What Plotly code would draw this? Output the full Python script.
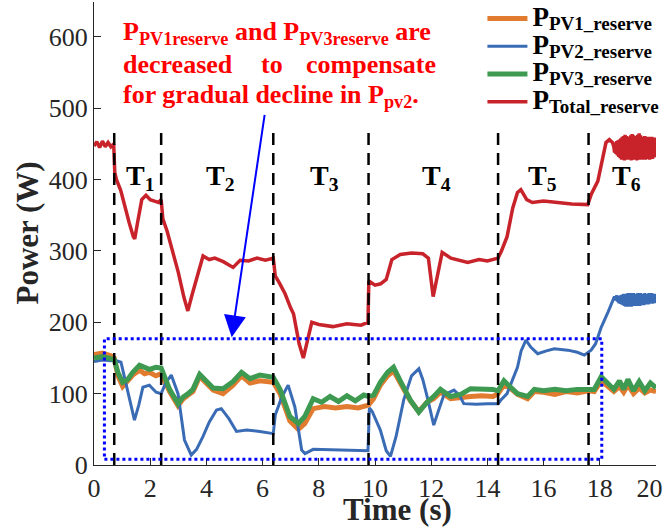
import plotly.graph_objects as go

# ---------------- data ----------------
t_total = [0.0, 0.1, 0.2, 0.3, 0.4, 0.5, 0.6, 0.7, 0.74, 0.8, 0.95, 1.1, 1.25, 1.4, 1.45, 1.55, 1.7, 1.85,
           2.0, 2.15, 2.3, 2.39, 2.45, 2.6, 2.8, 3.0, 3.2, 3.34, 3.5, 3.7, 3.88, 4.1, 4.3, 4.6, 4.95, 5.2,
           5.5, 5.8, 6.1, 6.38, 6.45, 6.6, 6.8, 7.0, 7.1, 7.3, 7.45, 7.6, 7.75, 8.0, 8.5, 9.0, 9.5, 9.75,
           9.78, 10.0, 10.2, 10.4, 10.6, 10.9, 11.3, 11.7, 11.9, 12.07, 12.25, 12.39, 12.7, 13.0, 13.3,
           13.7, 14.0, 14.38, 14.5, 14.7, 14.9, 15.07, 15.19, 15.4, 15.6, 16.0, 16.5, 17.0, 17.57, 17.7,
           17.93, 18.1, 18.22, 18.34, 18.45, 18.5,
           18.525, 18.55, 18.575, 18.6, 18.625, 18.65, 18.675, 18.7, 18.725, 18.75, 18.775, 18.8,
           18.825, 18.85, 18.875, 18.9, 18.925, 18.95, 18.975, 19.0, 19.025, 19.05, 19.075, 19.1,
           19.125, 19.15, 19.175, 19.2, 19.225, 19.25, 19.275, 19.3, 19.325, 19.35, 19.375, 19.4,
           19.425, 19.45, 19.475, 19.5, 19.525, 19.55, 19.575, 19.6, 19.625, 19.65, 19.675, 19.7,
           19.725, 19.75, 19.775, 19.8, 19.825, 19.85, 19.875, 19.9, 19.925, 19.95, 19.975, 20.0]
p_total = [447, 453, 445, 454, 446, 452, 446, 450, 410, 400, 385, 360, 340, 320, 317, 340, 372, 378,
           372, 370, 368, 372, 345, 328, 300, 270, 235, 216, 240, 270, 293, 288, 290, 285, 277, 287,
           286, 290, 287, 290, 265, 255, 240, 220, 212, 170, 150, 175, 200, 197, 194, 198, 196, 200,
           258, 252, 254, 260, 288, 295, 297, 296, 290, 236, 270, 298, 290, 287, 284,
           288, 286, 290, 300, 320, 360, 382, 386, 372, 368, 370, 368, 366, 365, 380,
           398, 430, 452, 456, 452, 446,
           438, 452, 436, 454, 434, 455, 432, 456, 430, 458, 428, 460,
           428, 461, 427, 463, 428, 461, 429, 458, 428, 460, 428, 462,
           427, 464, 428, 462, 429, 459, 428, 461, 427, 463, 428, 465,
           428, 462, 429, 459, 428, 460, 430, 461, 428, 460, 429, 459,
           430, 460, 428, 458, 430, 460, 429, 458, 431, 459, 432, 457]

t_pv2 = [0.0, 0.3, 0.6, 0.72, 0.96, 1.1, 1.26, 1.44, 1.6, 1.74, 1.97, 2.21, 2.39, 2.55, 2.75, 2.99, 3.22,
         3.46, 3.65, 3.88, 4.1, 4.36, 4.53, 4.8, 5.07, 5.43, 5.9, 6.38, 6.45, 6.68, 6.91, 7.15, 7.39,
         7.51, 7.8, 8.5, 9.2, 9.75, 9.8, 9.9, 10.19, 10.4, 10.55, 10.75, 11.02, 11.3, 11.56, 11.7,
         11.86, 12.09, 12.25, 12.45, 12.81, 13.0, 13.16, 13.6, 14.0, 14.38, 14.48, 14.7, 14.9, 15.07,
         15.2, 15.37, 15.55, 15.79, 16.1, 16.38, 16.86, 17.2, 17.45, 17.69, 17.85, 18.05, 18.3, 18.52,
         18.575, 18.6, 18.625, 18.65, 18.675, 18.7, 18.725, 18.75, 18.775, 18.8, 18.825, 18.85,
         18.875, 18.9, 18.925, 18.95, 18.975, 19.0, 19.025, 19.05, 19.075, 19.1, 19.125, 19.15,
         19.175, 19.2, 19.225, 19.25, 19.275, 19.3, 19.325, 19.35, 19.375, 19.4, 19.425, 19.45,
         19.475, 19.5, 19.525, 19.55, 19.575, 19.6, 19.625, 19.65, 19.675, 19.7, 19.725, 19.75,
         19.775, 19.8, 19.825, 19.85, 19.875, 19.9, 19.925, 19.95, 19.975, 20.0]
p_pv2 = [145, 147, 146, 147, 144, 120, 91, 63, 85, 109, 112, 102, 100, 115, 126, 100, 35,
         14, 22, 40, 60, 77, 79, 65, 47, 49, 47, 44, 70, 95, 112, 81, 21,
         16, 22, 21, 20, 20, 80, 75, 49, 20, 12, 40, 91, 125, 135, 120,
         95, 56, 75, 98, 105, 98, 86, 85, 86, 86, 91, 100, 120, 137,
         160, 175, 165, 156, 160, 163, 161, 158, 154, 161, 170, 193, 215, 236,
         231, 238, 229, 236, 227, 237, 226, 238, 225, 239, 224, 240,
         223, 238, 222, 240, 223, 241, 222, 239, 223, 241, 222, 240,
         224, 241, 223, 240, 224, 239, 223, 241, 224, 240, 223, 241,
         224, 240, 225, 240, 224, 241, 225, 240, 226, 240, 225, 241,
         226, 240, 226, 241, 226, 240, 227, 240, 227, 238]

t_pv1 = [0.0, 0.3, 0.6, 0.72, 0.85, 1.02, 1.2, 1.38, 1.62, 1.8, 1.97, 2.2, 2.39, 2.55, 2.69, 2.99, 3.16,
         3.35, 3.52, 3.76, 4.0, 4.24, 4.59, 4.95, 5.25, 5.55, 5.9, 6.14, 6.38, 6.62, 6.97, 7.27, 7.5,
         7.8, 8.2, 8.6, 9.0, 9.4, 9.77, 9.95, 10.19, 10.45, 10.66, 10.9, 11.26, 11.56, 11.85, 12.09,
         12.33, 12.69, 13.05, 13.4, 13.8, 14.2, 14.38, 14.59, 14.8, 15.07, 15.43, 15.67, 16.0, 16.4,
         16.8, 17.2, 17.6, 17.8, 18.05, 18.3, 18.5, 18.7, 18.85, 19.0, 19.2, 19.4, 19.6, 19.8, 20.0]
p_pv1 = [155, 157, 153, 150, 125, 110, 118, 126, 133, 128, 130, 125, 128, 115, 103, 83, 92,
         98, 103, 124, 115, 105, 100, 112, 125, 115, 118, 117, 116, 100, 62, 50, 58,
         79, 82, 80, 82, 80, 84, 93, 112, 125, 132, 115, 90, 75, 88, 93,
         102, 93, 95, 96, 97, 96, 100, 112, 108, 99, 93, 103, 102, 99,
         103, 101, 104, 103, 118, 110, 103, 110, 102, 112, 100, 108, 101, 105, 103]

t_pv3 = [0.0, 0.3, 0.6, 0.72, 0.85, 1.02, 1.2, 1.38, 1.62, 1.8, 1.97, 2.2, 2.39, 2.55, 2.69, 2.99, 3.16,
         3.35, 3.52, 3.76, 4.0, 4.24, 4.59, 4.95, 5.25, 5.55, 5.9, 6.14, 6.38, 6.62, 6.97, 7.27, 7.5,
         7.8, 8.1, 8.4, 8.7, 9.0, 9.3, 9.6, 9.77, 9.95, 10.19, 10.45, 10.66, 10.9, 11.26, 11.56, 11.85,
         12.09, 12.33, 12.69, 13.05, 13.4, 13.8, 14.2, 14.38, 14.59, 14.8, 15.07, 15.43, 15.67, 16.0,
         16.4, 16.8, 17.2, 17.6, 17.8, 18.05, 18.3, 18.5, 18.7, 18.85, 19.0, 19.2, 19.4, 19.6, 19.8, 20.0]
p_pv3 = [150, 152, 149, 148, 130, 116, 120, 130, 140, 136, 134, 137, 136, 120, 106, 86, 95,
         100, 106, 127, 117, 108, 107, 117, 130, 121, 126, 125, 123, 106, 68, 58, 68,
         93, 88, 96, 89, 97, 90, 98, 96, 98, 116, 130, 137, 118, 91, 74, 88,
         96, 106, 96, 99, 107, 107, 106, 104, 118, 110, 100, 96, 106, 104,
         106, 104, 106, 106, 106, 124, 113, 106, 118, 106, 120, 104, 117, 104, 115, 108]

series_names = ["PV1_reserve", "PV2_reserve", "PV3_reserve", "Total_reserve"]

# interval boundaries and labels
t_bounds = [0.72, 2.39, 6.38, 9.77, 14.38, 17.6]
interval_labels = ["T<sub>1</sub>", "T<sub>2</sub>", "T<sub>3</sub>", "T<sub>4</sub>", "T<sub>5</sub>", "T<sub>6</sub>"]
interval_label_x = [1.62, 4.47, 8.19, 12.2, 15.96, 18.94]
interval_label_y = 403
bound_top = 470

# highlighted region
box_x = [0.37, 18.07]
box_y = [8, 177]

x_ticks = list(range(0, 21, 2))
x_ticktext = [str(v) for v in x_ticks[:-1]] + [str(x_ticks[-1]) + "\u00a0\u00a0"]
y_ticks = list(range(0, 601, 100))

# ---------------- styling ----------------
FONT = "Liberation Serif"
C_PV1 = "#E07B30"
C_PV2 = "#3A6BB5"
C_PV3 = "#3D9A50"
C_TOT = "#C8232B"
AX = "#262626"


def leg_name(sub):
    return ("<b><span style='font-size:27px'>P</span>"
            "<sub><span style='font-size:19px'>" + sub + "</span></sub></b>")


fig = go.Figure()
fig.add_trace(go.Scatter(x=t_pv1, y=p_pv1, mode="lines", name=leg_name(series_names[0]),
                         line=dict(color=C_PV1, width=5)))
fig.add_trace(go.Scatter(x=t_pv2, y=p_pv2, mode="lines", name=leg_name(series_names[1]),
                         line=dict(color=C_PV2, width=3)))
fig.add_trace(go.Scatter(x=t_pv3, y=p_pv3, mode="lines", name=leg_name(series_names[2]),
                         line=dict(color=C_PV3, width=5)))
fig.add_trace(go.Scatter(x=t_total, y=p_total, mode="lines", name=leg_name(series_names[3]),
                         line=dict(color=C_TOT, width=3.5)))

shapes = []
for tb in t_bounds:
    shapes.append(dict(type="line", xref="x", yref="y", x0=tb, x1=tb, y0=0, y1=bound_top,
                       line=dict(color="black", width=2.5, dash="12px,8px")))
shapes.append(dict(type="rect", xref="x", yref="y", x0=box_x[0], x1=box_x[1], y0=box_y[0], y1=box_y[1],
                   line=dict(color="#0000FF", width=3, dash="dot")))

annotations = []
for lab, lx in zip(interval_labels, interval_label_x):
    annotations.append(dict(x=lx, y=interval_label_y, xref="x", yref="y", text="<b>" + lab + "</b>",
                            showarrow=False, font=dict(family=FONT, size=28, color="black")))

RED = "#FF0000"
tf = dict(family=FONT, size=26, color=RED)
annotations += [
    dict(x=0.975, y=605, xref="x", yref="y", xanchor="left", yanchor="middle", showarrow=False,
         text="<b>P<sub>PV1reserve</sub> and P<sub>PV3reserve</sub> are</b>", font=tf),
    dict(x=0.975, y=562, xref="x", yref="y", xanchor="left", yanchor="middle", showarrow=False,
         text="<b>decreased</b>", font=tf),
    dict(x=6.34, y=562, xref="x", yref="y", xanchor="center", yanchor="middle", showarrow=False,
         text="<b>to</b>", font=tf),
    dict(x=12.23, y=562, xref="x", yref="y", xanchor="right", yanchor="middle", showarrow=False,
         text="<b>compensate</b>", font=tf),
    dict(x=0.975, y=517, xref="x", yref="y", xanchor="left", yanchor="middle", showarrow=False,
         text="<b>for gradual decline in P<sub>pv2</sub>.</b>", font=tf),
    # arrow
    dict(x=4.9, y=179, ax=6.08, ay=493, xref="x", yref="y", axref="x", ayref="y", text="",
         showarrow=True, arrowhead=2, arrowsize=2.2, arrowwidth=2, arrowcolor="#0000FF"),
    # axis titles
    dict(x=0.0, y=0.5, xref="paper", yref="paper", xanchor="center", yanchor="middle", xshift=-67,
         text="<b>Power (W)</b>", textangle=-90,
         showarrow=False, font=dict(family=FONT, size=31, color=AX)),
    dict(x=10.8, y=0.0, xref="x", yref="paper", xanchor="center", yanchor="middle", yshift=-44,
         text="<b>Time (s)</b>",
         showarrow=False, font=dict(family=FONT, size=31, color=AX)),
]

fig.update_layout(
    width=664, height=527,
    margin=dict(l=94, r=8, t=2, b=62, autoexpand=False),
    paper_bgcolor="white", plot_bgcolor="white",
    font=dict(family=FONT, color=AX),
    shapes=shapes, annotations=annotations,
    legend=dict(x=1.015, y=1.005, xanchor="right", yanchor="top", bgcolor="rgba(0,0,0,0)",
                font=dict(family=FONT, size=19, color="black"), tracegroupgap=0, itemwidth=40),
    showlegend=True,
)
fig.update_xaxes(range=[0, 20], tickvals=x_ticks, ticktext=x_ticktext, ticks="inside", ticklen=7,
                 tickcolor=AX, showline=True, linecolor=AX, linewidth=1.2, showgrid=False, zeroline=False,
                 ticklabeloverflow="allow", automargin=False,
                 tickfont=dict(family=FONT, size=26, color=AX))
fig.update_yaxes(range=[0, 649], tickvals=y_ticks, ticks="inside", ticklen=7, tickcolor=AX,
                 showline=True, linecolor=AX, linewidth=1.2, showgrid=False, zeroline=False,
                 ticklabeloverflow="allow", automargin=False,
                 tickfont=dict(family=FONT, size=26, color=AX))

fig.write_html("out.html")
